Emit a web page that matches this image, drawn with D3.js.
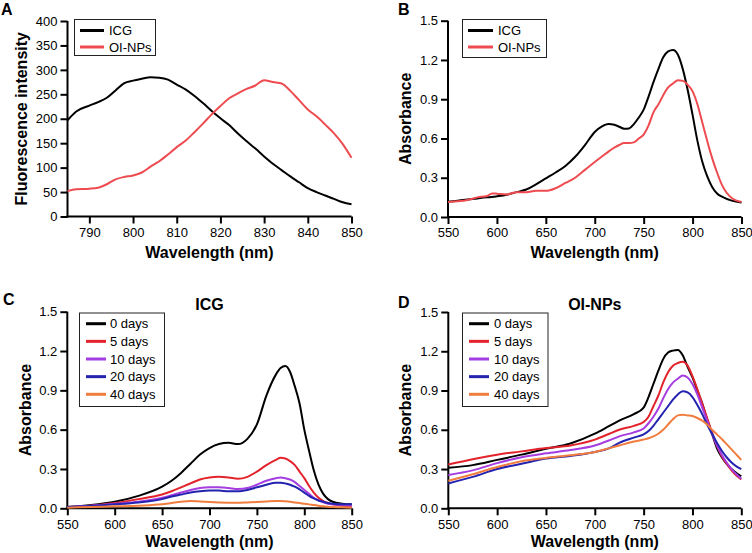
<!DOCTYPE html>
<html>
<head>
<meta charset="utf-8">
<script src="https://cdn.jsdelivr.net/npm/d3@7"></script>
<style>
  html, body { margin: 0; padding: 0; background: #fff; }
  svg text { font-family: "Liberation Sans", Arial, sans-serif; fill: #000; }
</style>
</head>
<body>
<svg id="chart" width="752" height="553"></svg>
<script>
// ---------- Panel A: fluorescence ----------
const aWavelength = [785,787,790,792,794,796,798,800,802,804,806,808,810,812,814,816,818,820,822,824,826,828,830,832,834,836,838,840,842,844,846,848,850];
const aICG   = [197,215,227,234,243,258,273,278,282,285,284,280,270,260,247,232,216,201,187,170,154,139,123,108,95,82,70,58,50,43,36,29,25];
const aOINPs = [52,56,57,59,66,76,81,84,90,102,113,127,142,155,172,190,209,226,242,252,261,268,279,275,272,257,238,219,205,188,170,148,120];
const aXTicks = [790,800,810,820,830,840,850];
const aYTicks = [0,50,100,150,200,250,300,350,400];

// ---------- Panel B: absorbance ----------
const bWavelength = [550,560,570,580,590,595,600,610,620,630,640,650,660,670,680,690,700,707,714,720,725,730,735,740,745,750,755,760,765,770,775,780,785,790,795,800,805,810,815,820,825,830,840,850];
const bICG   = [0.117,0.125,0.133,0.142,0.15,0.153,0.158,0.17,0.19,0.21,0.25,0.295,0.34,0.39,0.46,0.55,0.65,0.69,0.71,0.705,0.69,0.675,0.677,0.71,0.76,0.82,0.92,1.03,1.13,1.22,1.265,1.276,1.24,1.13,0.97,0.78,0.58,0.42,0.31,0.23,0.18,0.155,0.125,0.11];
const bOINPs = [0.115,0.12,0.13,0.15,0.16,0.18,0.178,0.172,0.19,0.19,0.2,0.2,0.22,0.26,0.3,0.36,0.42,0.46,0.5,0.53,0.55,0.565,0.565,0.57,0.6,0.63,0.7,0.8,0.86,0.93,0.99,1.02,1.045,1.04,1.01,0.96,0.86,0.72,0.58,0.45,0.34,0.245,0.145,0.115];

const absXTicks = [550,600,650,700,750,800,850];
const absYTicks = [0,0.3,0.6,0.9,1.2,1.5];

// ---------- Panel C: ICG stability ----------
const cWavelength = [550,575,600,625,650,660,670,680,690,700,710,720,730,740,750,760,770,775,780,785,790,795,800,805,810,815,820,825,830,840,850];
const cDay0  = [0.01,0.025,0.05,0.095,0.165,0.21,0.27,0.34,0.41,0.46,0.49,0.5,0.49,0.53,0.64,0.86,1.02,1.07,1.085,1.04,0.93,0.8,0.6,0.44,0.29,0.18,0.11,0.07,0.05,0.035,0.03];
const cDay5  = [0.01,0.02,0.04,0.07,0.105,0.13,0.16,0.19,0.22,0.235,0.24,0.235,0.225,0.24,0.28,0.33,0.37,0.385,0.38,0.36,0.33,0.28,0.23,0.17,0.12,0.08,0.055,0.04,0.03,0.02,0.015];
const cDay10 = [0.01,0.02,0.035,0.05,0.08,0.1,0.12,0.14,0.155,0.16,0.16,0.155,0.148,0.155,0.18,0.21,0.23,0.235,0.23,0.22,0.2,0.17,0.14,0.11,0.08,0.06,0.045,0.035,0.03,0.025,0.02];
const cDay20 = [0.01,0.018,0.03,0.045,0.07,0.09,0.105,0.12,0.13,0.135,0.135,0.13,0.13,0.14,0.16,0.18,0.195,0.195,0.19,0.18,0.165,0.145,0.12,0.095,0.075,0.06,0.05,0.04,0.035,0.03,0.03];
const cDay40 = [0.005,0.01,0.015,0.02,0.03,0.04,0.05,0.055,0.052,0.048,0.045,0.043,0.042,0.045,0.048,0.052,0.055,0.055,0.053,0.05,0.045,0.04,0.035,0.03,0.025,0.02,0.015,0.012,0.01,0.008,0.005];

// ---------- Panel D: OI-NPs stability ----------
const dWavelength = [550,575,600,625,650,675,700,715,725,740,750,755,760,765,770,775,780,785,790,795,800,805,810,815,820,825,830,835,840,845,850];
const dDay0  = [0.31,0.33,0.37,0.41,0.455,0.495,0.57,0.63,0.67,0.72,0.77,0.85,0.95,1.05,1.14,1.19,1.205,1.21,1.17,1.08,1.0,0.9,0.8,0.68,0.57,0.46,0.39,0.34,0.3,0.27,0.245];
const dDay5  = [0.335,0.375,0.41,0.435,0.46,0.48,0.525,0.57,0.6,0.63,0.66,0.7,0.78,0.86,0.96,1.04,1.09,1.11,1.12,1.09,1.01,0.91,0.8,0.69,0.58,0.48,0.4,0.34,0.29,0.25,0.22];
const dDay10 = [0.255,0.29,0.345,0.39,0.42,0.445,0.48,0.52,0.55,0.58,0.61,0.65,0.7,0.76,0.84,0.91,0.96,0.99,1.015,1.0,0.95,0.87,0.77,0.67,0.57,0.48,0.41,0.35,0.3,0.26,0.225];
const dDay20 = [0.19,0.24,0.3,0.34,0.38,0.4,0.43,0.46,0.5,0.54,0.565,0.59,0.63,0.68,0.73,0.78,0.83,0.87,0.895,0.885,0.85,0.79,0.72,0.64,0.57,0.5,0.44,0.39,0.35,0.32,0.3];
const dDay40 = [0.21,0.26,0.315,0.36,0.385,0.405,0.43,0.46,0.48,0.51,0.525,0.535,0.55,0.57,0.6,0.64,0.68,0.71,0.715,0.71,0.705,0.69,0.67,0.64,0.6,0.565,0.53,0.49,0.45,0.41,0.37];

const dayLabels = ["0 days","5 days","10 days","20 days","40 days"];
const dayColors = ["#000000","#e3232b","#a53de0","#2323b0","#f07c3e"];
const pairLabels = ["ICG","OI-NPs"];
const pairColors = ["#000000","#ee4b50"];

const svg = d3.select("#chart");

function drawPanel(p) {
  const x = d3.scaleLinear().domain(p.xDomain).range([p.left, p.right]);
  const y = d3.scaleLinear().domain(p.yDomain).range([p.bottom, p.top]);
  const g = svg.append("g");

  const xAxis = d3.axisBottom(x).tickValues(p.xTicks).tickSize(7).tickSizeOuter(0).tickPadding(4).tickFormat(d3.format("d"));
  const yAxis = d3.axisLeft(y).tickValues(p.yTicks).tickSize(7).tickSizeOuter(0).tickPadding(3).tickFormat(p.yFormat);

  const gx = g.append("g").attr("transform", `translate(0,${p.bottom})`).call(xAxis);
  const gy = g.append("g").attr("transform", `translate(${p.left},0)`).call(yAxis);
  [gx, gy].forEach(a => {
    a.selectAll("path.domain").attr("stroke", "#000").attr("stroke-width", 2);
    a.selectAll(".tick line").attr("stroke", "#000").attr("stroke-width", 2);
    a.selectAll(".tick text").attr("font-size", 13).attr("font-family", "Liberation Sans, Arial, sans-serif");
  });
  gx.select("path.domain").attr("d", `M${p.left - 1},0H${p.right}`);
  gy.select("path.domain").attr("d", `M0,${p.top}V${p.bottom + 1}`);

  const line = d3.line().x(d => x(d[0])).y(d => y(d[1])).curve(d3.curveMonotoneX);
  p.series.forEach((s, i) => {
    g.append("path")
      .datum(p.wavelength.map((w, k) => [w, s[k]]))
      .attr("fill", "none")
      .attr("stroke", p.colors[i])
      .attr("stroke-width", 2)
      .attr("stroke-linejoin", "round")
      .attr("d", line);
  });

  g.append("text")
    .attr("x", (p.left + p.right) / 2).attr("y", p.xTitleY)
    .attr("text-anchor", "middle").attr("font-size", 16).attr("font-weight", "bold")
    .text("Wavelength (nm)");
  g.append("text")
    .attr("transform", `translate(${p.yTitleX},${(p.top + p.bottom) / 2}) rotate(-90)`)
    .attr("text-anchor", "middle").attr("font-size", 16).attr("font-weight", "bold")
    .text(p.yTitle);

  g.append("text").attr("x", p.letterX).attr("y", p.letterY)
    .attr("font-size", 16).attr("font-weight", "bold").text(p.letter);

  if (p.title) {
    g.append("text").attr("x", (p.left + p.right) / 2).attr("y", p.titleY)
      .attr("text-anchor", "middle").attr("font-size", 16).attr("font-weight", "bold")
      .text(p.title);
  }

  const L = p.legend;
  g.append("rect").attr("x", L.x0 + 0.5).attr("y", L.y0 + 0.5)
    .attr("width", L.x1 - L.x0).attr("height", L.y1 - L.y0)
    .attr("fill", "#fff").attr("stroke", "#222").attr("stroke-width", 1);
  p.labels.forEach((lab, i) => {
    const yy = L.rowY + i * L.rowStep;
    g.append("line").attr("x1", L.lx0).attr("x2", L.lx1).attr("y1", yy).attr("y2", yy)
      .attr("stroke", p.colors[i]).attr("stroke-width", 3);
    g.append("text").attr("x", L.tx).attr("y", yy).attr("dy", "0.36em")
      .attr("font-size", 13).text(lab);
  });
}

const fmt1 = d3.format(".1f");

drawPanel({
  letter: "A", letterX: 1, letterY: 15,
  left: 67.5, right: 351.5, top: 21, bottom: 216.5,
  xDomain: [785, 850], yDomain: [0, 400], xTicks: aXTicks, yTicks: aYTicks, yFormat: d3.format("d"),
  wavelength: aWavelength, series: [aICG, aOINPs], colors: pairColors, labels: pairLabels,
  xTitleY: 258, yTitleX: 27, yTitle: "Fluorescence intensity",
  legend: { x0: 74, y0: 19, x1: 155, y1: 55, rowY: 30.5, rowStep: 16.5, lx0: 80, lx1: 104, tx: 109 }
});

drawPanel({
  letter: "B", letterX: 398, letterY: 15,
  left: 448, right: 741.5, top: 20.7, bottom: 217,
  xDomain: [550, 850], yDomain: [0, 1.5], xTicks: absXTicks, yTicks: absYTicks, yFormat: fmt1,
  wavelength: bWavelength, series: [bICG, bOINPs], colors: pairColors, labels: pairLabels,
  xTitleY: 258, yTitleX: 411, yTitle: "Absorbance",
  legend: { x0: 462, y0: 19, x1: 546, y1: 57, rowY: 30.5, rowStep: 16.5, lx0: 468, lx1: 493, tx: 498 }
});

drawPanel({
  letter: "C", letterX: 3, letterY: 305,
  left: 67.3, right: 351.7, top: 311.7, bottom: 508.3,
  xDomain: [550, 850], yDomain: [0, 1.5], xTicks: absXTicks, yTicks: absYTicks, yFormat: fmt1,
  wavelength: cWavelength, series: [cDay0, cDay5, cDay10, cDay20, cDay40], colors: dayColors, labels: dayLabels,
  title: "ICG", titleY: 309.5,
  xTitleY: 547, yTitleX: 31, yTitle: "Absorbance",
  legend: { x0: 79, y0: 312.5, x1: 164, y1: 406, rowY: 323.7, rowStep: 17.65, lx0: 86, lx1: 106, tx: 110 }
});

drawPanel({
  letter: "D", letterX: 398, letterY: 308,
  left: 448.3, right: 741.3, top: 312, bottom: 508.3,
  xDomain: [550, 850], yDomain: [0, 1.5], xTicks: absXTicks, yTicks: absYTicks, yFormat: fmt1,
  wavelength: dWavelength, series: [dDay0, dDay5, dDay10, dDay20, dDay40], colors: dayColors, labels: dayLabels,
  title: "OI-NPs", titleY: 309.5,
  xTitleY: 547, yTitleX: 411, yTitle: "Absorbance",
  legend: { x0: 462, y0: 312.5, x1: 547.5, y1: 406, rowY: 323.7, rowStep: 17.65, lx0: 469, lx1: 489, tx: 494 }
});
</script>
</body>
</html>
